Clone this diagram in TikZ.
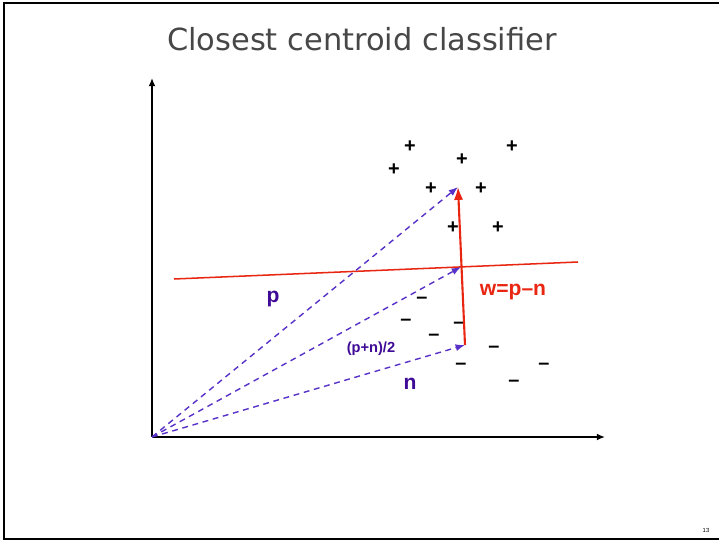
\documentclass[tikz,border=0pt]{standalone}
\usepackage{fontspec}
\usetikzlibrary{arrows.meta}
\setmainfont{Liberation Sans}
\newfontfamily\titlefont{DejaVu Sans}
\definecolor{vecpurple}{RGB}{88,50,200}
\definecolor{labpurple}{RGB}{62,10,150}
\definecolor{wred}{RGB}{232,38,18}
\begin{document}
\begin{tikzpicture}[x=0.03cm,y=-0.03cm,
    axis/.style={line width=1.6pt,-{Latex[length=7pt,width=6pt]}},
    vec/.style={vecpurple,line width=1.2pt,dash pattern=on 5pt off 4pt,-{Latex[length=8pt,width=6pt]}},
    pt/.style={font=\bfseries\fontsize{17}{17}\selectfont,inner sep=0pt}]
    \useasboundingbox (0,0) rectangle (719,541);
    % slide frame
    \draw[line width=2.5pt] (719,3) -- (4,3) -- (4,539) -- (719,539);
    \node[text=black!72,font=\titlefont\fontsize{26}{26}\selectfont] (title) at (362,39) {Closest centroid classifier};
    \node[font=\fontsize{5}{5}\selectfont] (pagenum) at (706,530) {13};
    % axes
    \coordinate (O) at (152,437);
    \draw[axis] (O) -- (152,78);
    \draw[axis] (O) -- (605,437);
    % class points
    \foreach \x/\y in {410/147,462/160,512/147,394/170,431/189,481/189,453/228,498/228}
      \node[pt] at (\x,\y) {+};
    \foreach \x/\y in {422/300,406/322,459/325,434/337,494/349,461/366,544/366,514/383}
      \node[pt] at (\x,\y) {--};
    % centroids
    \coordinate (P) at (458,187);
    \coordinate (M) at (461,267);
    \coordinate (N) at (465,345);
    \draw[wred,line width=1.3pt] (174,279) -- (578,262);
    \draw[vec] (O) -- (P);
    \draw[vec] (O) -- (M);
    \draw[vec] (O) -- (N);
    \draw[wred,line width=1.8pt,-{Latex[length=11pt,width=8pt]}] (N) -- (P);
    \node[labpurple,font=\bfseries\fontsize{18}{18}\selectfont] (plab) at (273,299) {p};
    \node[labpurple,font=\bfseries\fontsize{12.5}{12.5}\selectfont] (mlab) at (371,349) {(p+n)/2};
    \node[labpurple,font=\bfseries\fontsize{18}{18}\selectfont] (nlab) at (410,384) {n};
    \node[wred,font=\bfseries\fontsize{18}{18}\selectfont] (wlab) at (513,292) {w=p--n};
\end{tikzpicture}
\end{document}
